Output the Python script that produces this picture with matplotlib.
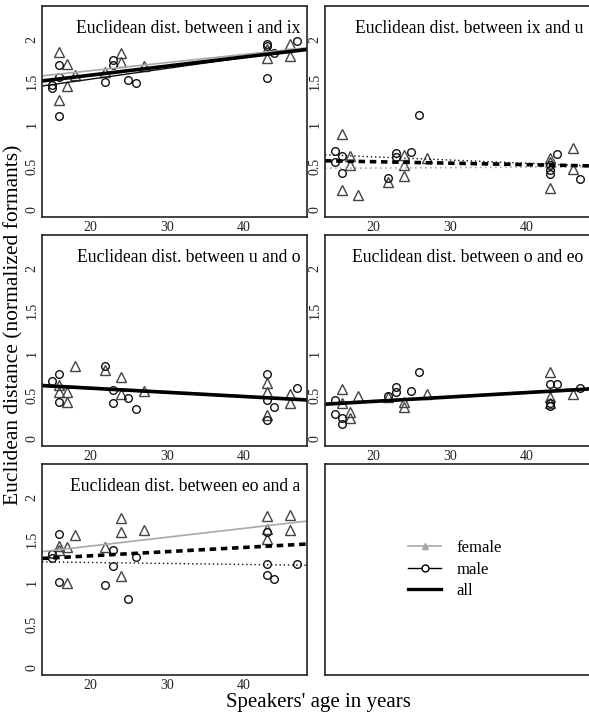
import numpy as np
import matplotlib
matplotlib.use("Agg")
import matplotlib.pyplot as plt
from matplotlib.lines import Line2D

plt.rcParams['font.family'] = ['Liberation Serif', 'DejaVu Serif']

# panel titles
titles = ["Euclidean dist. between i and ix",
          "Euclidean dist. between ix and u",
          "Euclidean dist. between u and o",
          "Euclidean dist. between o and eo",
          "Euclidean dist. between eo and a"]

# female speakers (triangles)
f_age = [
    [16, 16, 17, 17, 18, 22, 24, 24, 27, 43, 43, 46, 46],
    [16, 16, 17, 17, 18, 22, 24, 24, 24, 27, 43, 43, 43, 46, 46],
    [16, 16, 17, 17, 18, 22, 24, 24, 27, 43, 43, 43, 46, 46],
    [16, 16, 17, 17, 18, 22, 24, 24, 27, 43, 43, 43, 46],
    [16, 16, 17, 17, 18, 22, 24, 24, 24, 27, 43, 43, 43, 46, 46],
]
f_val = [
    [1.85, 1.28, 1.71, 1.45, 1.58, 1.61, 1.84, 1.73, 1.68, 1.89, 1.78, 1.94, 1.80],
    [0.88, 0.23, 0.63, 0.52, 0.17, 0.32, 0.64, 0.52, 0.39, 0.60, 0.60, 0.56, 0.25, 0.72, 0.47],
    [0.63, 0.54, 0.54, 0.43, 0.85, 0.80, 0.72, 0.52, 0.56, 0.65, 0.54, 0.27, 0.52, 0.42],
    [0.58, 0.41, 0.31, 0.24, 0.50, 0.48, 0.43, 0.37, 0.52, 0.78, 0.48, 0.41, 0.52],
    [1.43, 1.38, 1.42, 0.99, 1.56, 1.41, 1.76, 1.59, 1.07, 1.61, 1.78, 1.63, 1.51, 1.79, 1.62],
]

# male speakers (circles)
m_age = [
    [15, 15, 16, 16, 16, 22, 23, 23, 25, 26, 43, 43, 43, 44, 47],
    [15, 15, 16, 16, 22, 23, 23, 25, 26, 43, 43, 43, 44, 47],
    [15, 16, 16, 22, 23, 23, 25, 26, 43, 43, 43, 44, 47],
    [15, 15, 16, 16, 22, 23, 23, 25, 26, 43, 43, 43, 44, 47],
    [15, 15, 16, 16, 22, 23, 23, 25, 26, 43, 43, 43, 44, 47],
]
m_val = [
    [1.43, 1.46, 1.70, 1.56, 1.10, 1.50, 1.76, 1.70, 1.52, 1.49, 1.95, 1.92, 1.54, 1.84, 1.98],
    [0.69, 0.56, 0.63, 0.43, 0.37, 0.66, 0.62, 0.67, 1.11, 0.52, 0.46, 0.42, 0.65, 0.35],
    [0.67, 0.75, 0.43, 0.85, 0.57, 0.41, 0.47, 0.34, 0.76, 0.45, 0.21, 0.37, 0.59],
    [0.45, 0.28, 0.24, 0.17, 0.50, 0.60, 0.54, 0.55, 0.78, 0.64, 0.41, 0.38, 0.64, 0.59],
    [1.33, 1.29, 1.57, 1.00, 0.97, 1.38, 1.19, 0.80, 1.30, 1.59, 1.21, 1.09, 1.04, 1.21],
]

# regression lines: value at left and right end of the age axis
f_fit = [(1.57, 1.90), (0.48, 0.50), (0.63, 0.46), (0.40, 0.57), (1.36, 1.72)]
m_fit = [(1.45, 1.89), (0.64, 0.51), (0.61, 0.45), (0.41, 0.59), (1.24, 1.20)]
a_fit = [(1.51, 1.88), (0.57, 0.51), (0.62, 0.45), (0.40, 0.58), (1.28, 1.45)]
# significant -> solid, otherwise dotted / dashed
f_sig = [True, False, True, False, True]
m_sig = [True, False, True, False, False]
a_sig = [True, False, True, True, False]

xlim = (15 - 1.28, 47 + 1.28)
ylim = (-0.092, 2.392)

fig = plt.figure(figsize=(5.89, 7.14), dpi=100)

W, H = 589, 714
lefts = [42, 325]
tops = [6, 235, 464]
aw, ah = 265, 211

axes = []
for r in range(3):
    for c in range(2):
        ax = fig.add_axes([lefts[c] / W, 1 - (tops[r] + ah) / H, aw / W, ah / H])
        for s in ax.spines.values():
            s.set_linewidth(1.2)
            s.set_color('#222222')
        axes.append(ax)

grey = '#a8a8a8'
for i in range(5):
    ax = axes[i]
    ax.set_xlim(xlim)
    ax.set_ylim(ylim)
    ax.plot(f_age[i], f_val[i], linestyle='none', marker='^', ms=6.5,
            mfc='none', mec='#444444', mew=1.0)
    ax.plot(m_age[i], m_val[i], linestyle='none', marker='o', ms=5.5,
            mfc='none', mec='#111111', mew=1.0)

    ax.plot(xlim, f_fit[i], color=grey, lw=1.2,
            ls='-' if f_sig[i] else (0, (1, 2)))
    ax.plot(xlim, m_fit[i], color='#111111', lw=1.0,
            ls='-' if m_sig[i] else (0, (1, 2)))
    ax.plot(xlim, a_fit[i], color='black', lw=2.6,
            ls='-' if a_sig[i] else (0, (1.8, 1.3)))

    ax.text(0.975, 0.895, titles[i], transform=ax.transAxes, ha='right',
            va='center', fontsize=12.7)

    ax.set_xticks([20, 30, 40])
    ax.set_yticks([0, 0.5, 1, 1.5, 2])
    ax.set_yticklabels(['0', '0.5', '1', '1.5', '2'], rotation=90, va='center')
    ax.tick_params(axis='both', length=0, labelsize=10, colors='#222222')
    ax.tick_params(axis='y', pad=2.5)
    ax.tick_params(axis='x', pad=3)

# empty legend panel
lax = axes[5]
lax.set_xticks([])
lax.set_yticks([])
handles = [Line2D([], [], color=grey, lw=1.2, marker='^', ms=5, mfc=grey, mec=grey),
           Line2D([], [], color='black', lw=1.0, marker='o', ms=5, mfc='white', mec='black'),
           Line2D([], [], color='black', lw=2.4)]
lax.legend(handles, ['female', 'male', 'all'], loc='center', frameon=False,
           fontsize=12, handlelength=2.0, handletextpad=0.9, labelspacing=0.35,
           bbox_to_anchor=(0.49, 0.5))

fig.text(0.023, 0.545, 'Euclidean distance (normalized formants)', rotation=90,
         ha='center', va='center', fontsize=15.5)
fig.text(0.54, 0.016, "Speakers' age in years", ha='center', va='center',
         fontsize=15)

fig.savefig('out.png', dpi=100)
